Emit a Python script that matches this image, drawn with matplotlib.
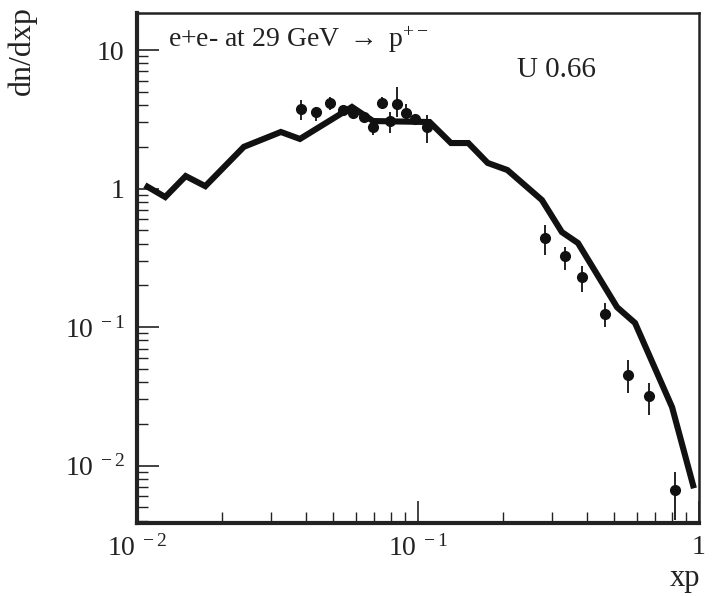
import numpy as np
import matplotlib
matplotlib.use("Agg")
import matplotlib.pyplot as plt
from matplotlib.ticker import LogLocator, NullFormatter

plt.rcParams['font.family'] = ['Liberation Serif', 'DejaVu Serif']
plt.rcParams['mathtext.fontset'] = 'custom'
plt.rcParams['mathtext.rm'] = 'Liberation Serif'
plt.rcParams['mathtext.it'] = 'Liberation Serif:italic'

# model curve (thick line)
xp_model = [0.0109, 0.0126, 0.0149, 0.0175, 0.0240, 0.0325, 0.0380, 0.0582, 0.0692,
            0.110, 0.131, 0.151, 0.177, 0.208, 0.276, 0.325, 0.371, 0.511, 0.592,
            0.802, 0.953]
dn_model = [1.03, 0.868, 1.23, 1.04, 2.00, 2.56, 2.28, 3.88, 3.07,
            3.02, 2.13, 2.13, 1.53, 1.36, 0.826, 0.485, 0.404, 0.139, 0.107,
            0.0264, 0.0072]

# measured points with error bar ends
xp_data = [0.0383, 0.0433, 0.0486, 0.0541, 0.0586, 0.0643, 0.0694, 0.0743, 0.0794,
           0.0839, 0.0905, 0.0975, 0.108, 0.283, 0.333, 0.383, 0.463, 0.560,
           0.665, 0.821]
dn_data = [3.73, 3.55, 4.16, 3.69, 3.49, 3.28, 2.79, 4.16, 3.09,
           4.07, 3.52, 3.16, 2.79, 0.437, 0.326, 0.229, 0.124, 0.045,
           0.0318, 0.00665]
dn_low = [3.12, 3.07, 3.69, 3.45, 3.20, 3.00, 2.43, 3.75, 2.52,
          3.28, 3.02, 2.90, 2.13, 0.331, 0.258, 0.179, 0.100, 0.0334,
          0.0232, 0.00404]
dn_high = [4.35, 3.88, 4.58, 3.95, 3.80, 3.55, 3.23, 4.58, 3.57,
           5.41, 4.07, 3.45, 3.40, 0.545, 0.378, 0.276, 0.149, 0.0578,
           0.0394, 0.00897]

fig = plt.figure(figsize=(7.14, 5.96), dpi=100)
ax = fig.add_axes([0.1919, 0.1225, 0.7871, 0.8557])

ax.plot(xp_model, dn_model, color='#111111', lw=4.4, solid_joinstyle='miter')
yerr = [np.array(dn_data) - np.array(dn_low), np.array(dn_high) - np.array(dn_data)]
ax.errorbar(xp_data, dn_data, yerr=yerr, fmt='o', color='#111111', ms=7,
            elinewidth=1.3, capsize=0)

ax.set_xscale('log')
ax.set_yscale('log')
ax.set_xlim(0.01, 1.0)
ax.set_ylim(0.00385, 18.5)

ax.set_xticks([0.01, 0.1, 1.0], [r'$10^{\ -2}$', r'$10^{\ -1}$', '1'])
ax.set_yticks([0.01, 0.1, 1.0, 10.0], [r'$10^{\ -2}$', r'$10^{\ -1}$', '1', '10'])
ax.xaxis.set_minor_locator(LogLocator(base=10, subs=np.arange(2, 10)))
ax.yaxis.set_minor_locator(LogLocator(base=10, subs=np.arange(2, 10)))
ax.xaxis.set_minor_formatter(NullFormatter())
ax.yaxis.set_minor_formatter(NullFormatter())

ax.tick_params(which='both', direction='in', top=False, right=False,
               labelsize=20, colors='#222222')
ax.tick_params(which='major', length=16, width=1.2, pad=9)
ax.tick_params(which='minor', length=8, width=1.0)

for side in ['left', 'bottom']:
    ax.spines[side].set_linewidth(3)
for side in ['top', 'right']:
    ax.spines[side].set_linewidth(1.8)
for s in ax.spines.values():
    s.set_color('#222222')

ax.text(0.055, 0.933, r'e+e- at 29 GeV $\rightarrow$ p$^{+-}$', transform=ax.transAxes,
        fontsize=20, color='#222222', va='baseline', ha='left')
ax.text(0.676, 0.888, 'U 0.66', transform=ax.transAxes,
        fontsize=21, color='#222222', va='center', ha='left')

fig.text(0.031, 0.915, 'dn/dxp', rotation=90, fontsize=23, color='#222222',
         ha='center', va='center')
fig.text(0.959, 0.030, 'xp', fontsize=22, color='#222222', ha='center', va='center')

fig.savefig('out.png', dpi=100)
